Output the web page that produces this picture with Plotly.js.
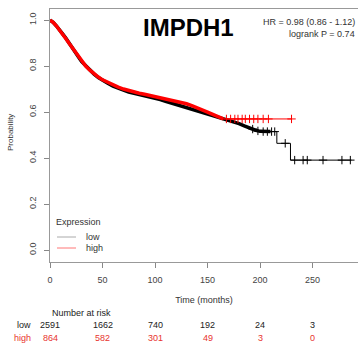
<!DOCTYPE html>
<html>
<head>
<meta charset="utf-8">
<script src="https://cdn.plot.ly/plotly-3.0.1.min.js"></script>
<style>html,body{margin:0;padding:0;background:#fff;}#chart{width:358px;height:347px;}</style>
</head>
<body>
<div id="chart"></div>
<script>
// Kaplan-Meier curve: low expression
const lowTime = [0,3,6,9,12,15,18,21,24,27,30,34,38,42,46,50,55,60,65,70,75,80,85,90,95,100,105,110,115,120,125,130,135,140,145,150,155,160,165,170,175,180,185,190,195,200,205,210,216,229,287];
const lowSurv = [1.0,0.99,0.975,0.96,0.94,0.922,0.90,0.88,0.86,0.84,0.82,0.80,0.78,0.765,0.75,0.738,0.725,0.713,0.703,0.694,0.687,0.681,0.676,0.671,0.666,0.66,0.654,0.647,0.64,0.633,0.626,0.619,0.612,0.606,0.60,0.594,0.587,0.58,0.572,0.565,0.558,0.55,0.54,0.53,0.522,0.516,0.515,0.515,0.464,0.391,0.391];
// Kaplan-Meier curve: high expression
const highTime = [0,3,6,9,12,15,18,21,24,27,30,34,38,42,46,50,55,60,65,70,75,80,85,90,95,100,105,110,115,120,125,130,135,140,145,150,155,160,165,230];
const highSurv = [1.0,0.99,0.975,0.958,0.94,0.92,0.90,0.88,0.86,0.84,0.822,0.80,0.782,0.766,0.752,0.74,0.728,0.717,0.708,0.70,0.693,0.687,0.682,0.677,0.672,0.667,0.662,0.657,0.652,0.647,0.642,0.636,0.628,0.62,0.61,0.60,0.59,0.58,0.57,0.57];
// censored observations in the sparse tails
const lowCensorTime = [193,198,203,207,211,214,224,233,241,245,260,278,286];
const lowCensorSurv = [0.526,0.518,0.515,0.515,0.515,0.515,0.464,0.391,0.391,0.391,0.391,0.391,0.391];
const highCensorTime = [168,172,176,179,183,186,190,194,198,203,208,230];
const highCensorSurv = [0.57,0.57,0.57,0.57,0.57,0.57,0.57,0.57,0.57,0.57,0.57,0.57];
// number at risk table
const riskTimes = [0,50,100,150,200,250];
const riskLow = [2591,1662,740,192,24,3];
const riskHigh = [864,582,301,49,3,0];
const yTicks = [0,0.2,0.4,0.6,0.8,1.0];
const xTicks = [0,50,100,150,200,250];

const RED = '#ff0000', BLK = '#000000', REDTXT = '#e8332e';
const lowSplit = lowTime.indexOf(210);
const highSplit = highTime.indexOf(165);

const traces = [
  {x: lowTime.slice(0, lowSplit+1), y: lowSurv.slice(0, lowSplit+1), mode:'lines', line:{shape:'linear', color:BLK, width:3.5}, hoverinfo:'skip'},
  {x: lowTime.slice(lowSplit), y: lowSurv.slice(lowSplit), mode:'lines', line:{shape:'hv', color:BLK, width:1}, hoverinfo:'skip'},
  {x: lowCensorTime, y: lowCensorSurv, mode:'markers', marker:{symbol:'cross-thin-open', size:6, color:BLK, line:{color:BLK, width:1}}, hoverinfo:'skip'},
  {x: highTime.slice(0, highSplit+1), y: highSurv.slice(0, highSplit+1), mode:'lines', line:{shape:'linear', color:RED, width:3.5}, hoverinfo:'skip'},
  {x: highTime.slice(highSplit), y: highSurv.slice(highSplit), mode:'lines', line:{shape:'hv', color:RED, width:1}, hoverinfo:'skip'},
  {x: highCensorTime, y: highCensorSurv, mode:'markers', marker:{symbol:'cross-thin-open', size:6, color:RED, line:{color:RED, width:1}}, hoverinfo:'skip'}
];

// pixel helpers for layout placement
const L = 50, T = 9, W = 308, H = 253;
const px = v => (v - L) / W;
const py = v => (T + H - v) / H;

const FONT = 'Liberation Sans, Arial, sans-serif';
function note(text, x, y, opts) {
  return Object.assign({text, xref:'paper', yref:'paper', x:px(x), y:py(y), xanchor:'center', yanchor:'middle', showarrow:false, font:{family:FONT, size:9, color:'#333'}}, opts || {});
}
const annotations = [
  note('<b>IMPDH1</b>', 188, 27.5, {font:{family:FONT, size:24, color:'#000'}}),
  note('HR = 0.98 (0.86 - 1.12)', 357, 21.5, {xanchor:'right'}),
  note('logrank P = 0.74', 357, 33.5, {xanchor:'right'}),
  note('Probability', 10, 133, {textangle:-90, font:{family:FONT, size:8, color:'#333'}}),
  note('Expression', 54, 222, {xanchor:'left'}),
  note('low', 84, 237, {xanchor:'left'}),
  note('high', 84, 248, {xanchor:'left'}),
  note('Number at risk', 50, 313, {xanchor:'left', font:{family:FONT, size:9, color:'#222'}}),
  note('low', 33, 325, {xanchor:'right', font:{family:FONT, size:9, color:'#222'}}),
  note('high', 33, 338, {xanchor:'right', font:{family:FONT, size:9, color:REDTXT}})
];
riskTimes.forEach((t, i) => {
  annotations.push({text:String(riskLow[i]), xref:'x', yref:'paper', x:t, y:py(325), xanchor:'center', yanchor:'middle', showarrow:false, font:{family:FONT, size:9, color:'#222'}});
  annotations.push({text:String(riskHigh[i]), xref:'x', yref:'paper', x:t, y:py(338), xanchor:'center', yanchor:'middle', showarrow:false, font:{family:FONT, size:9, color:REDTXT}});
});

const shapes = [
  {type:'line', xref:'paper', yref:'paper', x0:px(57), x1:px(76), y0:py(237), y1:py(237), line:{color:'#aaaaaa', width:1}},
  {type:'line', xref:'paper', yref:'paper', x0:px(57), x1:px(76), y0:py(248), y1:py(248), line:{color:'#ff7777', width:1}}
];

const layout = {
  width:358, height:347,
  margin:{l:L, r:0, t:T, b:347 - T - H},
  paper_bgcolor:'#fff', plot_bgcolor:'#fff',
  showlegend:false,
  font:{family:FONT, size:9, color:'#444'},
  xaxis:{range:[0, 293.3], tickvals:xTicks, ticks:'outside', ticklen:5, tickcolor:'#888', showline:true, linecolor:'#999', linewidth:1, mirror:true, showgrid:false, zeroline:false,
         ticklabelstandoff:4, tickfont:{family:FONT, size:9, color:'#444'},
         title:{text:'Time (months)', font:{family:FONT, size:9, color:'#333'}, standoff:12}},
  yaxis:{range:[-0.052, 1.048], tickvals:yTicks, ticktext:yTicks.map(v=>v.toFixed(1)), ticks:'outside', ticklen:5, tickcolor:'#888', showline:true, linecolor:'#999', linewidth:1, showgrid:false, zeroline:false,
         ticklabelstandoff:4, tickangle:-90, tickfont:{family:FONT, size:9, color:'#444'}},
  annotations, shapes
};

Plotly.newPlot('chart', traces, layout, {staticPlot:true, displayModeBar:false});
</script>
</body>
</html>
